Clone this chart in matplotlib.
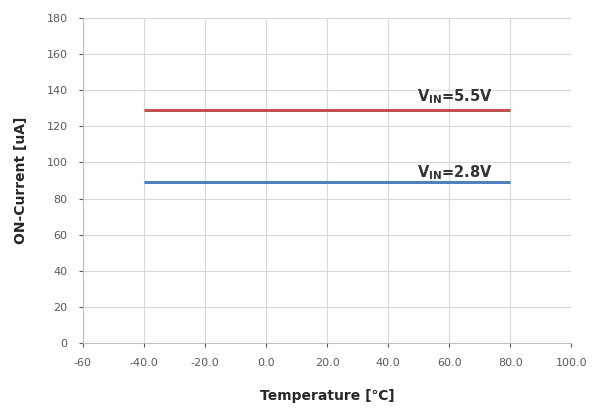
import matplotlib.pyplot as plt
import numpy as np

plt.switch_backend('agg')

# data
temp = [-40.0, 80.0]
i_55 = [129.0, 129.0]
i_28 = [89.0, 89.0]
xticks = [-60, -40, -20, 0, 20, 40, 60, 80, 100]
xtick_labels = ['-60', '-40.0', '-20.0', '0.0', '20.0', '40.0', '60.0', '80.0', '100.0']
yticks = [0, 20, 40, 60, 80, 100, 120, 140, 160, 180]

fig = plt.figure(figsize=(6.09, 4.12), dpi=100)
ax = fig.add_axes([0.136, 0.1675, 0.802, 0.789])

ax.plot(temp, i_55, color='#C0504D', lw=2.2, solid_capstyle='butt')
ax.plot(temp, i_28, color='#4F81BD', lw=2.2, solid_capstyle='butt')

ax.text(49.5, 136.5, r'V$_{\mathbf{IN}}$=5.5V', fontsize=10.5, fontweight='bold',
        color='#333333', va='center', ha='left')
ax.text(49.5, 94.5, r'V$_{\mathbf{IN}}$=2.8V', fontsize=10.5, fontweight='bold',
        color='#333333', va='center', ha='left')

ax.set_xlim(-60, 100)
ax.set_ylim(0, 180)
ax.set_xticks(xticks)
ax.set_xticklabels(xtick_labels)
ax.set_yticks(yticks)
ax.tick_params(labelsize=8, colors='#595959', length=3, width=0.8)
ax.tick_params(axis='x', pad=8)
ax.tick_params(axis='y', pad=8)
ax.grid(True, color='#D9D9D9', lw=0.8)
ax.set_axisbelow(True)
for side in ['top', 'right']:
    ax.spines[side].set_visible(False)
for side in ['left', 'bottom']:
    ax.spines[side].set_color('#BFBFBF')

ax.set_xlabel('Temperature [℃]', fontsize=10, fontweight='bold', color='#262626', labelpad=15)
ax.set_ylabel('ON-Current [uA]', fontsize=10, fontweight='bold', color='#262626', labelpad=13)

fig.savefig('out.png', dpi=100)
